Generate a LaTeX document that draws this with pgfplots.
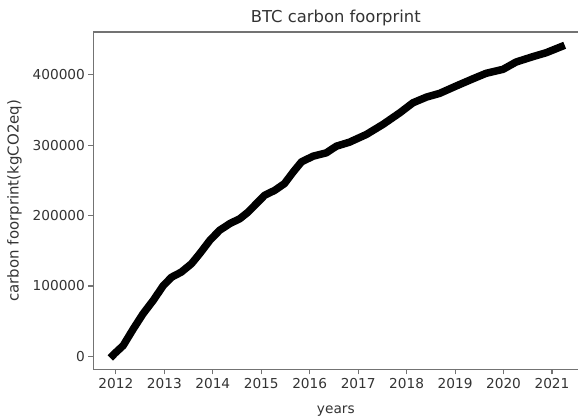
\documentclass[border=0pt]{standalone}
\usepackage{fontspec}
\setmainfont{DejaVu Sans}
\usepackage{pgfplots}
\pgfplotsset{compat=1.18}

% carbon footprint
\pgfplotstableread{
year      co2
2011.94   1500
2011.98   4300
2012.15   15200
2012.36   39000
2012.56   60400
2012.77   79400
2012.98   100700
2013.15   112500
2013.35   119700
2013.56   131600
2013.73   145900
2013.94   164900
2014.14   179100
2014.35   188600
2014.56   195700
2014.73   205100
2014.90   217100
2015.07   228900
2015.28   236000
2015.48   245600
2015.66   262100
2015.83   276400
2016.07   284500
2016.34   289200
2016.55   298700
2016.82   304400
2017.17   315400
2017.51   329600
2017.86   346200
2018.13   360400
2018.41   368500
2018.68   373800
2019.02   384200
2019.37   394600
2019.64   402300
2019.99   408000
2020.26   418400
2020.60   425900
2020.88   431600
2021.19   440200
}\carbon

\begin{document}
\begin{tikzpicture}
\begin{axis}[
  scale only axis,
  width=485.7bp, height=338bp,
  xmin=2011.532, xmax=2021.546,
  ymin=-19000, ymax=461100,
  axis x line*=box, axis y line*=left,
  axis line style={black!55, line width=1.1bp},
  every tick/.style={black!55, line width=1.1bp},
  tick align=outside,
  xtick pos=left, ytick pos=left,
  major tick length=4.8bp,
  xtick={2012,2013,...,2021},
  ytick={0,100000,...,400000},
  scaled y ticks=false,
  /pgf/number format/assume math mode=true,
  /pgf/number format/1000 sep={},
  yticklabel style={/pgf/number format/fixed},
  tick label style={font=\fontsize{13.7bp}{16bp}\selectfont, text=black!80},
  xlabel style={font=\fontsize{13.7bp}{16bp}\selectfont, text=black!80, yshift=-11bp},
  ylabel style={font=\fontsize{15bp}{18bp}\selectfont, text=black!80, yshift=4bp},
  title style={font=\fontsize{16.4bp}{19bp}\selectfont, text=black!80, yshift=-3bp},
  title={BTC carbon foorprint},
  xlabel={years},
  ylabel={carbon foorprint(kgCO2eq)},
]
\addplot[black, line width=7.5bp, line join=round, line cap=rect] table[x=year, y=co2] {\carbon};
\end{axis}
\path (current axis.south west) ++(-93.3bp,-50bp) coordinate (bl);
\path (current axis.north east) ++(0bp,32bp) coordinate (tr);
\path (bl) rectangle (tr);
\end{tikzpicture}
\end{document}
